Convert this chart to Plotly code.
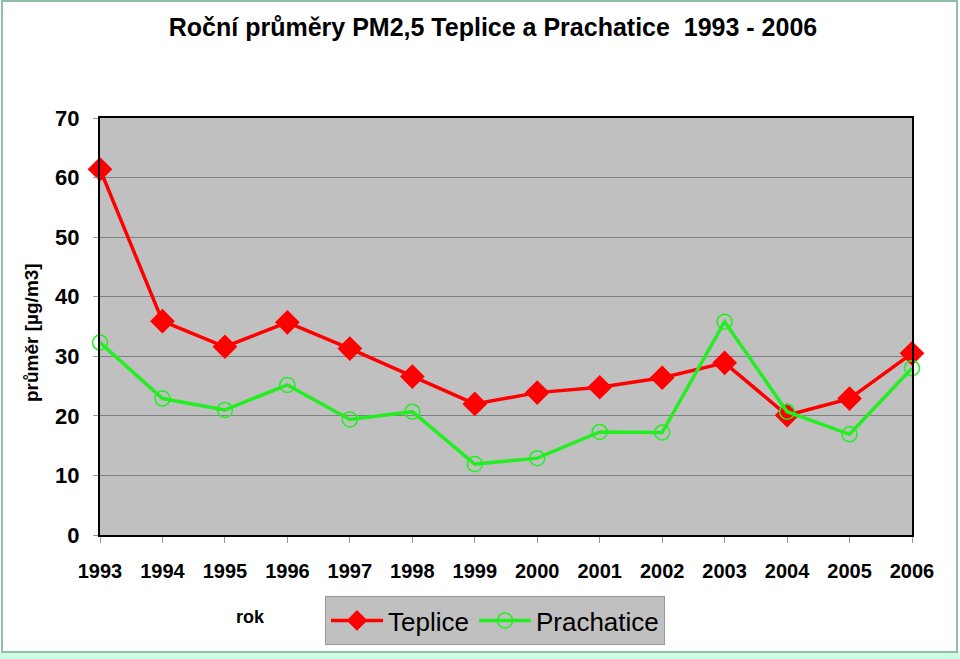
import plotly.graph_objects as go

years = list(range(1993, 2007))
teplice = [61.4, 35.9, 31.6, 35.7, 31.3, 26.6, 22.0, 23.9, 24.8, 26.4, 28.9, 20.1, 22.9, 30.5]
prachatice = [32.3, 22.9, 21.0, 25.2, 19.4, 20.7, 11.9, 12.9, 17.3, 17.2, 35.8, 20.7, 16.9, 28.0]
y_ticks = [0, 10, 20, 30, 40, 50, 60, 70]

W, H = 960, 659
L, R, T, B = 100, 912, 118, 535
pw, ph = R - L, B - T


def px(x):
    return (x - L) / pw


def py(y):
    return (B - y) / ph


FONT = "Liberation Sans, Arial, sans-serif"

fig = go.Figure()
fig.add_trace(go.Scatter(
    x=years, y=teplice, name="Teplice", mode="lines+markers",
    line=dict(color="#ff0000", width=3.5),
    marker=dict(symbol="diamond", size=19, color="#ff0000"),
    cliponaxis=False,
))
fig.add_trace(go.Scatter(
    x=years, y=prachatice, name="Prachatice", mode="lines+markers",
    line=dict(color="#22ee22", width=3.5),
    marker=dict(symbol="circle-open", size=15, color="#22ee22", line=dict(width=1.5)),
    cliponaxis=False,
))

fig.update_layout(
    width=W, height=H,
    margin=dict(l=L, r=W - R, t=T, b=H - B),
    paper_bgcolor="white",
    plot_bgcolor="#c0c0c0",
    title=dict(
        text="<b>Roční průměry PM2,5 Teplice a Prachatice  1993 - 2006</b>",
        x=493 / W, xanchor="center", y=1 - 27 / H, yanchor="middle",
        yref="container", font=dict(family=FONT, size=25, color="black"),
    ),
    xaxis=dict(
        range=[1993, 2006], tickvals=years, ticktext=[str(y) for y in years],
        showgrid=False, zeroline=False, showline=True, linecolor="black",
        linewidth=2, mirror=True, ticks="outside", ticklen=6, tickcolor="#999999",
        tickfont=dict(family=FONT, size=20, color="black", weight="bold"),
        ticklabelstandoff=11,
    ),
    yaxis=dict(
        range=[0, 70], tickvals=y_ticks, showgrid=True, gridcolor="#808080",
        gridwidth=1, zeroline=False, showline=True, linecolor="black",
        linewidth=2, mirror=True, ticks="outside", ticklen=5, tickcolor="#999999",
        tickfont=dict(family=FONT, size=22, color="black", weight="bold"),
        ticklabelstandoff=9,
    ),
    showlegend=True,
    legend=dict(
        orientation="h", x=px(325), y=py(596), xanchor="left", yanchor="top",
        bgcolor="#c0c0c0", bordercolor="#999999", borderwidth=1,
        font=dict(family=FONT, size=26, color="black"),
        itemwidth=52, tracegroupgap=0,
    ),
    annotations=[
        dict(text="<b>průměr [µg/m3]</b>", x=px(31), y=py(333), xref="paper", yref="paper",
             xanchor="center", yanchor="middle",
             textangle=-90, showarrow=False, font=dict(family=FONT, size=19, color="black")),
        dict(text="<b>rok</b>", x=px(250), y=py(617), xref="paper", yref="paper",
             xanchor="center", yanchor="middle",
             showarrow=False, font=dict(family=FONT, size=18, color="black")),
    ],
    shapes=[
        dict(type="rect", xref="paper", yref="paper", x0=px(0), x1=px(960), y0=py(652),
             y1=py(659), fillcolor="#ccffe6", line=dict(width=0), layer="below"),
        dict(type="rect", xref="paper", yref="paper", x0=px(2), x1=px(957), y0=py(652),
             y1=py(1), line=dict(color="#8fbfa8", width=2), layer="below"),
    ],
)

fig.write_html("out.html")
